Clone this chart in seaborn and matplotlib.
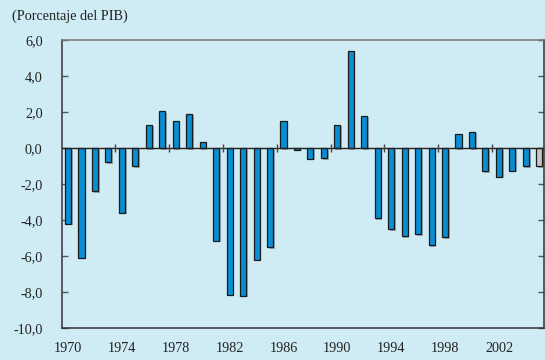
import matplotlib
matplotlib.use("Agg")
import matplotlib.pyplot as plt
import matplotlib.patheffects as pe
import seaborn as sns
import pandas as pd

# Saldo (porcentaje del PIB), 1970-2005; el último año es estimación
years = list(range(1970, 2006))
values = [-4.2, -6.1, -2.4, -0.8, -3.6, -1.0, 1.3, 2.05, 1.5, 1.9,
          0.35, -5.15, -8.15, -8.2, -6.2, -5.5, 1.5, -0.1, -0.6, -0.55,
          1.3, 5.4, 1.8, -3.9, -4.5, -4.9, -4.8, -5.4, -4.95, 0.8,
          0.9, -1.3, -1.6, -1.25, -1.0, -1.0]
estimated = [2005]
yticks = [6, 4, 2, 0, -2, -4, -6, -8, -10]
xlabel_years = [1970, 1974, 1978, 1982, 1986, 1990, 1994, 1998, 2002]

BG = "#CFEBF4"
BAR = "#0A8ED3"
EST = "#C6C6C6"
FS = 10.2

sns.set_theme(style="white")
plt.rcParams["font.family"] = ["Liberation Serif", "DejaVu Serif"]

df = pd.DataFrame({"year": [str(y) for y in years], "value": values})
palette = {str(y): (EST if y in estimated else BAR) for y in years}

fig = plt.figure(figsize=(5.45, 3.6), dpi=100, facecolor=BG)
ax = fig.add_axes([62 / 545, 1 - 328 / 360, 482 / 545, 288 / 360])
ax.set_facecolor(BG)

sns.barplot(data=df, x="year", y="value", hue="year", palette=palette,
            legend=False, width=0.45, edgecolor="#1a1a1a", linewidth=0.9,
            saturation=1, ax=ax)

shadow = [pe.SimplePatchShadow(offset=(1.2, -1.2), shadow_rgbFace="#555555", alpha=0.45),
          pe.Normal()]
for patch in ax.patches:
    patch.set_path_effects(shadow)

ax.set_xlim(-0.45, 35.35)
ax.set_ylim(-10, 6)
ax.set_xlabel("")
ax.set_ylabel("")

# zero line with small marks between four-year groups
ax.axhline(0, color="#222222", lw=1.0, zorder=3)
group_marks = [i + 3.5 for i in range(0, len(years) - 4, 4)]
ax.plot(group_marks, [0] * len(group_marks), ls="none", marker="|",
        ms=6, mew=1.0, color="#444444", zorder=3)

ax.set_yticks(yticks)
ax.set_yticklabels([f"{v:.1f}".replace(".", ",") for v in yticks])
ax.tick_params(axis="y", which="major", direction="in", length=4, width=1,
               color="#555555", left=True, right=True, pad=14,
               labelsize=FS, labelcolor="#222222")

pos = [years.index(y) for y in xlabel_years]
ax.set_xticks(pos)
ax.set_xticklabels([str(y) for y in xlabel_years])
ax.tick_params(axis="x", length=0, pad=10, labelsize=FS, labelcolor="#222222")

for side in ["left", "bottom", "right"]:
    ax.spines[side].set_color("#333333")
    ax.spines[side].set_linewidth(1.1)
    ax.spines[side].set_visible(True)
ax.spines["top"].set_color("#777777")
ax.spines["top"].set_linewidth(1.1)
ax.spines["top"].set_visible(True)

fig.text(12 / 545, 1 - 16 / 360, "(Porcentaje del PIB)", fontsize=FS,
         color="#222222", va="center", ha="left")

fig.savefig("out.png", dpi=100, facecolor=BG)
